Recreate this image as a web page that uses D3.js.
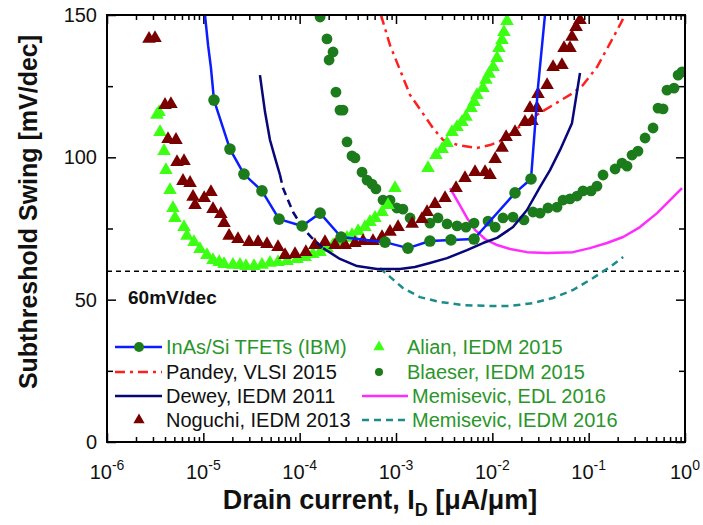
<!DOCTYPE html>
<html>
<head>
<meta charset="utf-8">
<script src="https://cdn.jsdelivr.net/npm/d3@7"></script>
<style>
  body { margin: 0; background: #fff; }
  svg { font-family: "Liberation Sans", Arial, sans-serif; }
</style>
</head>
<body>
<svg id="chart" width="703" height="525"></svg>
<script>
// drain current [uA/um], subthreshold swing [mV/dec]
const ibmHead = [[1.04e-5, 150], [1.12e-5, 139.4], [1.20e-5, 131.4]];
const ibmPoints = [[1.29e-5, 120.1], [1.89e-5, 102.9], [2.64e-5, 94.1], [4.06e-5, 88.2], [6.11e-5, 78.3],
  [1.06e-4, 75.9], [1.63e-4, 80.4], [2.69e-4, 72.0], [7.69e-4, 70.2], [1.33e-3, 68.1], [2.25e-3, 70.6],
  [3.72e-3, 71.0], [6.46e-3, 71.3], [1.72e-2, 87.5], [2.52e-2, 92.4]];
const ibmTail = [[2.98e-2, 124.7], [3.52e-2, 150]];

const pandey = [[6.98e-4, 150], [8.67e-4, 139.4], [1.10e-3, 130.7], [1.40e-3, 121.9], [1.86e-3, 115.9],
  [2.42e-3, 110.3], [3.08e-3, 106.1], [4.41e-3, 104.3], [6.93e-3, 103.3], [9.46e-3, 104.3], [1.20e-2, 105.7],
  [1.64e-2, 108.9], [2.18e-2, 112.4], [3.13e-2, 115.6], [4.27e-2, 118.4], [6.88e-2, 122.6], [8.73e-2, 125.4],
  [0.122, 131.7], [0.167, 140.1], [0.211, 146.5], [0.238, 150]];

const deweyUpper = [[3.87e-5, 128.9], [4.37e-5, 115.9], [4.92e-5, 106.1], [5.55e-5, 99.8], [6.25e-5, 93.8]];
const deweyGap = [[6.25e-5, 93.8], [6.71e-5, 89.2], [8.53e-5, 80.8], [1.08e-4, 75.2], [1.34e-4, 71.7], [1.75e-4, 68.1]];
const deweyLower = [[1.75e-4, 68.1], [2.62e-4, 64.3], [3.94e-4, 61.8], [6.35e-4, 60.8], [1.10e-3, 60.8],
  [1.57e-3, 61.5], [2.25e-3, 62.9], [3.39e-3, 64.6], [5.46e-3, 67.4], [8.00e-3, 69.9], [1.12e-2, 71.7],
  [1.64e-2, 75.5], [2.29e-2, 81.5], [3.13e-2, 89.6], [3.97e-2, 95.5], [5.05e-2, 102.6], [6.71e-2, 112.0],
  [8.13e-2, 129.6]];

const noguchi = [[2.73e-6, 141.6], [3.15e-6, 141.9], [4.00e-6, 118.4], [4.61e-6, 118.7], [4.30e-6, 106.4],
  [5.20e-6, 106.1], [5.33e-6, 98.3], [6.30e-6, 98.7], [6.15e-6, 91.7], [7.28e-6, 91.0], [7.82e-6, 86.1],
  [8.20e-6, 83.2], [1.02e-5, 85.7], [1.20e-5, 87.8], [1.26e-5, 81.8], [1.52e-5, 80.1], [1.64e-5, 76.9],
  [1.85e-5, 72.4], [2.29e-5, 71.3], [2.98e-5, 70.2], [3.70e-5, 70.2], [4.58e-5, 69.5], [5.96e-5, 68.5],
  [7.05e-5, 65.7], [8.95e-5, 66.0], [1.16e-4, 66.7], [1.44e-4, 69.2], [1.83e-4, 70.2], [2.33e-4, 69.2],
  [2.96e-4, 69.2], [3.75e-4, 69.9], [4.55e-4, 70.6], [5.77e-4, 70.6], [7.16e-4, 72.0], [8.67e-4, 73.8],
  [1.05e-3, 75.5], [1.47e-3, 76.6], [1.86e-3, 78.3], [2.10e-3, 80.8], [2.54e-3, 83.6], [3.23e-3, 85.7],
  [4.20e-3, 89.2], [5.20e-3, 92.7], [6.61e-3, 94.8], [8.40e-3, 94.8], [9.46e-3, 93.8], [1.07e-2, 99.4],
  [1.26e-2, 103.3], [1.39e-2, 107.1], [1.72e-2, 108.9], [2.18e-2, 112.4], [2.58e-2, 112.7], [2.46e-2, 117.3],
  [2.91e-2, 117.3], [2.98e-2, 122.2], [3.70e-2, 125.4], [4.27e-2, 131.7], [5.28e-2, 132.4], [5.55e-2, 138.4],
  [6.40e-2, 138.4], [6.71e-2, 142.3], [7.40e-2, 145.8], [8.13e-2, 148.2]];

const alian = [[3.30e-6, 114.9], [3.47e-6, 115.9], [3.55e-6, 108.9], [3.91e-6, 102.2], [4.09e-6, 95.5],
  [4.51e-6, 88.5], [4.84e-6, 82.2], [5.08e-6, 78.7], [6.30e-6, 75.5], [6.76e-6, 72.4], [8.00e-6, 70.2],
  [9.22e-6, 67.8], [1.09e-5, 65.7], [1.26e-5, 63.9], [1.46e-5, 63.2], [1.64e-5, 62.5], [2.03e-5, 62.2],
  [2.40e-5, 62.2], [2.77e-5, 61.8], [3.36e-5, 61.8], [4.06e-5, 62.2], [4.92e-5, 62.9], [5.96e-5, 63.2],
  [7.40e-5, 63.6], [9.37e-5, 64.3], [1.14e-4, 65.0], [1.37e-4, 66.0], [1.63e-4, 66.7], [1.92e-4, 68.1],
  [2.22e-4, 69.2], [2.62e-4, 70.6], [3.10e-4, 71.7], [3.49e-4, 72.7], [4.04e-4, 74.1], [4.76e-4, 75.5],
  [5.37e-4, 77.3], [6.05e-4, 78.7], [7.16e-4, 80.8], [8.26e-4, 83.2], [9.77e-4, 89.2], [2.15e-3, 96.2],
  [2.60e-3, 100.8], [3.01e-3, 102.9], [3.39e-3, 105.0], [3.81e-3, 108.9], [4.30e-3, 110.6], [4.84e-3, 112.4],
  [5.33e-3, 114.2], [6.01e-3, 117.3], [6.46e-3, 119.4], [6.93e-3, 121.9], [8.00e-3, 124.3], [8.59e-3, 127.2],
  [9.25e-3, 129.3], [1.02e-2, 131.7], [1.12e-2, 134.9], [1.17e-2, 138.4], [1.26e-2, 141.2], [1.32e-2, 144.0],
  [1.42e-2, 147.9]];

const blaeser = [[1.63e-4, 149.3], [1.92e-4, 141.6], [2.22e-4, 137.0], [2.02e-4, 134.2], [2.38e-4, 122.9],
  [2.62e-4, 116.6], [2.82e-4, 116.6], [3.10e-4, 105.4], [3.49e-4, 100.5], [3.75e-4, 99.8], [4.44e-4, 94.8],
  [5.00e-4, 92.0], [5.64e-4, 90.6], [6.19e-4, 88.9], [7.33e-4, 85.0], [8.67e-4, 85.0], [1.02e-3, 82.2],
  [1.18e-3, 81.8], [1.40e-3, 78.7], [2.25e-3, 76.9], [2.73e-3, 78.7], [3.39e-3, 76.6], [4.30e-3, 75.9],
  [5.33e-3, 75.5], [6.46e-3, 76.9], [9.02e-3, 77.6], [1.07e-2, 75.5], [1.29e-2, 78.7], [1.64e-2, 79.0],
  [2.13e-2, 78.0], [2.64e-2, 80.8], [3.13e-2, 80.4], [3.78e-2, 82.2], [4.69e-2, 82.5], [5.42e-2, 85.0],
  [6.40e-2, 85.4], [7.57e-2, 86.4], [8.73e-2, 88.2], [0.106, 88.2], [0.122, 89.9], [0.141, 93.8],
  [0.188, 95.9], [0.222, 98.0], [0.250, 96.9], [0.282, 100.8], [0.325, 102.2], [0.385, 106.8], [0.466, 110.3],
  [0.525, 117.3], [0.592, 117.0], [0.650, 123.6], [0.769, 124.3], [0.848, 128.9], [0.931, 130.0]];

const memisevicEdl = [[3.64e-3, 89.2], [4.41e-3, 84.3], [5.46e-3, 78.7], [6.61e-3, 74.5], [8.40e-3, 71.3],
  [1.12e-2, 69.2], [1.53e-2, 67.8], [2.29e-2, 66.7], [3.70e-2, 66.4], [6.88e-2, 66.7], [0.103, 68.1],
  [0.155, 69.9], [0.228, 72.0], [0.341, 75.5], [0.513, 80.4], [0.700, 85.0], [0.931, 89.2]];

const memisevicIedm = [[6.82e-4, 61.1], [8.67e-4, 58.0], [1.18e-3, 54.1], [1.77e-3, 50.9], [2.86e-3, 49.2],
  [4.97e-3, 48.1], [8.81e-3, 47.8], [1.53e-2, 47.8], [2.64e-2, 48.8], [4.27e-2, 50.6], [6.88e-2, 53.4],
  [0.111, 57.6], [0.167, 61.5], [0.228, 65.0]];

const idealSwing = 60;
const yTicks = [0, 50, 100, 150];
const yMinor = [25, 75, 125];
const xDecades = [-6, -5, -4, -3, -2, -1, 0];
const legendLeft = ["InAs/Si TFETs (IBM)", "Pandey, VLSI 2015", "Dewey, IEDM 2011", "Noguchi, IEDM 2013"];
const legendRight = ["Alian, IEDM 2015", "Blaeser, IEDM 2015", "Memisevic, EDL 2016", "Memisevic, IEDM 2016"];

const C = {
  blue: "#0b1cff", green: "#1c7c1c", navy: "#07077a", red: "#ff1f1f",
  maroon: "#7a0000", lime: "#3cff14", magenta: "#ff2cff", teal: "#1b8b8b", text: "#2a962a"
};

const svg = d3.select("#chart");
const L = 107, R = 685, T = 15, B = 442;
const x = d3.scaleLog().domain([1e-6, 1]).range([L, R]);
const y = d3.scaleLinear().domain([0, 150]).range([B, T]);

svg.append("clipPath").attr("id", "clip")
  .append("rect").attr("x", L).attr("y", T).attr("width", R - L).attr("height", B - T);

// ticks (inward, all four sides)
const allX = x.ticks();
const isMajor = d => Math.abs(Math.log10(d) - Math.round(Math.log10(d))) < 1e-6;
const majorX = allX.filter(isMajor);
const minorX = allX.filter(d => !isMajor(d));

function tickGroup(axis, tx, ty) {
  const g = svg.append("g").attr("transform", `translate(${tx},${ty})`).call(axis);
  g.select(".domain").remove();
  g.selectAll("line").attr("stroke", "#000").attr("stroke-width", 1.5);
  return g;
}
tickGroup(d3.axisBottom(x).tickValues(majorX).tickSize(-9).tickFormat(""), 0, B);
tickGroup(d3.axisBottom(x).tickValues(minorX).tickSize(-5).tickFormat(""), 0, B);
tickGroup(d3.axisTop(x).tickValues(majorX).tickSize(-9).tickFormat(""), 0, T);
tickGroup(d3.axisTop(x).tickValues(minorX).tickSize(-5).tickFormat(""), 0, T);
const yl = tickGroup(d3.axisLeft(y).tickValues(yTicks).tickSize(-9).tickPadding(10), L, 0);
yl.selectAll("text").attr("font-size", 20).attr("fill", "#111")
  .style("font-family", "'Liberation Sans', Arial, sans-serif");
tickGroup(d3.axisLeft(y).tickValues(yMinor).tickSize(-6).tickFormat(""), L, 0);
tickGroup(d3.axisRight(y).tickValues(yTicks).tickSize(-9).tickFormat(""), R, 0);
tickGroup(d3.axisRight(y).tickValues(yMinor).tickSize(-6).tickFormat(""), R, 0);

// x tick labels with superscripts
xDecades.forEach(k => {
  const t = svg.append("text").attr("x", x(Math.pow(10, k))).attr("y", 479)
    .attr("text-anchor", "middle").attr("font-size", 20).attr("fill", "#111");
  t.append("tspan").text("10");
  t.append("tspan").attr("dy", -9).attr("font-size", 14).text(String(k));
});

// 60 mV/dec reference
svg.append("line").attr("x1", L).attr("x2", R).attr("y1", y(idealSwing)).attr("y2", y(idealSwing))
  .attr("stroke", "#000").attr("stroke-width", 1.6).attr("stroke-dasharray", "5,4");
svg.append("text").attr("x", 128).attr("y", 304).attr("font-size", 19).attr("font-weight", "bold")
  .attr("fill", "#111").text("60mV/dec");

const plot = svg.append("g").attr("clip-path", "url(#clip)");
const line = d3.line().x(d => x(d[0])).y(d => y(d[1]));
const tri = d3.symbol().type(d3.symbolTriangle).size(80);

function drawLine(data, color, width, dash) {
  plot.append("path").datum(data).attr("d", line).attr("fill", "none")
    .attr("stroke", color).attr("stroke-width", width).attr("stroke-dasharray", dash || null)
    .attr("stroke-linejoin", "round");
}

drawLine(pandey, C.red, 2.5, "10,5,3,5");
drawLine(memisevicIedm, C.teal, 2.5, "7,5");
drawLine(memisevicEdl, C.magenta, 2.5);

plot.selectAll(".blaeser").data(blaeser).join("circle")
  .attr("cx", d => x(d[0])).attr("cy", d => y(d[1])).attr("r", 5.4).attr("fill", C.green);

plot.selectAll(".alian").data(alian).join("path")
  .attr("d", tri).attr("transform", d => `translate(${x(d[0])},${y(d[1])})`).attr("fill", C.lime);

plot.selectAll(".noguchi").data(noguchi).join("path")
  .attr("d", tri).attr("transform", d => `translate(${x(d[0])},${y(d[1])})`).attr("fill", C.maroon);

drawLine(deweyUpper, C.navy, 2.5);
drawLine(deweyGap, C.navy, 2.5, "8,5");
drawLine(deweyLower, C.navy, 2.5);

drawLine(ibmHead.concat(ibmPoints, ibmTail), C.blue, 2.5);
plot.selectAll(".ibm").data(ibmPoints).join("circle")
  .attr("cx", d => x(d[0])).attr("cy", d => y(d[1])).attr("r", 5.8).attr("fill", C.green);

// frame
svg.append("rect").attr("x", L).attr("y", T).attr("width", R - L).attr("height", B - T)
  .attr("fill", "none").attr("stroke", "#000").attr("stroke-width", 2);

// legend
const rowY = [347, 372, 396, 420];
const lg = svg.append("g").attr("font-size", 20);
legendLeft.forEach((name, i) => {
  lg.append("text").attr("x", 166).attr("y", rowY[i] + 7)
    .attr("fill", i === 0 ? C.text : "#111").text(name);
});
legendRight.forEach((name, i) => {
  lg.append("text").attr("x", i < 2 ? 407 : 412).attr("y", rowY[i] + 7).attr("fill", C.text).text(name);
});
function legLine(x1, x2, yy, color, dash) {
  lg.append("line").attr("x1", x1).attr("x2", x2).attr("y1", yy).attr("y2", yy)
    .attr("stroke", color).attr("stroke-width", 2.5).attr("stroke-dasharray", dash || null);
}
legLine(115, 162, rowY[0], C.blue);
lg.append("circle").attr("cx", 139).attr("cy", rowY[0]).attr("r", 5).attr("fill", C.green);
legLine(115, 162, rowY[1], C.red, "10,5,3,5");
legLine(115, 162, rowY[2], C.navy);
lg.append("path").attr("d", d3.symbol().type(d3.symbolTriangle).size(55))
  .attr("transform", `translate(139,${rowY[3]})`).attr("fill", C.maroon);
lg.append("path").attr("d", d3.symbol().type(d3.symbolTriangle).size(55))
  .attr("transform", `translate(379,${rowY[0]})`).attr("fill", C.lime);
lg.append("circle").attr("cx", 379).attr("cy", rowY[1]).attr("r", 4).attr("fill", C.green);
legLine(362, 408, rowY[2], C.magenta);
legLine(362, 408, rowY[3], C.teal, "7,5");

// axis titles
const xt = svg.append("text").attr("x", 380).attr("y", 509).attr("text-anchor", "middle")
  .attr("font-size", 27).attr("font-weight", "bold").attr("fill", "#111");
xt.append("tspan").text("Drain current, I");
xt.append("tspan").attr("dy", 7).attr("font-size", 18).text("D");
xt.append("tspan").attr("dy", -7).text(" [μA/μm]");

svg.append("text").attr("transform", "rotate(-90)").attr("x", -212).attr("y", 37)
  .attr("text-anchor", "middle").attr("font-size", 25).attr("font-weight", "bold").attr("fill", "#111")
  .text("Subthreshold Swing [mV/dec]");
</script>
</body>
</html>
